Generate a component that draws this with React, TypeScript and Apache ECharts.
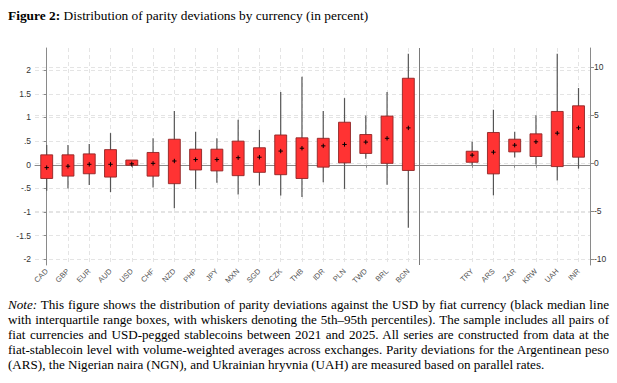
import React, { useEffect, useRef } from "react";
import * as echarts from "echarts";

// ---- Data (percent) ----
const leftCurrencies = ["CAD", "GBP", "EUR", "AUD", "USD", "CHF", "NZD", "PHP", "JPY", "MXN", "SGD", "CZK", "THB", "IDR", "PLN", "TWD", "BRL", "BGN"];
const leftP5 = [-0.55, -0.5, -0.43, -0.58, -0.04, -0.48, -0.92, -0.51, -0.38, -0.63, -0.44, -0.65, -0.68, -0.37, -0.51, 0.13, -0.42, -1.33];
const leftQ1 = [-0.29, -0.24, -0.19, -0.26, -0.01, -0.24, -0.4, -0.11, -0.13, -0.23, -0.16, -0.21, -0.29, -0.05, 0.04, 0.24, 0.03, -0.12];
const leftMedian = [-0.06, -0.03, 0.01, 0.01, 0.02, 0.03, 0.08, 0.11, 0.11, 0.15, 0.16, 0.29, 0.35, 0.4, 0.43, 0.48, 0.56, 0.78];
const leftQ3 = [0.21, 0.21, 0.23, 0.32, 0.1, 0.26, 0.54, 0.33, 0.33, 0.5, 0.36, 0.63, 0.57, 0.56, 0.9, 0.64, 1.03, 1.83];
const leftP95 = [0.42, 0.42, 0.44, 0.67, 0.1, 0.56, 1.14, 0.7, 0.56, 0.95, 0.74, 1.54, 1.86, 1.14, 1.41, 1.04, 1.54, 2.35];

const rightCurrencies = ["TRY", "ARS", "ZAR", "KRW", "UAH", "INR"];
const rightP5 = [-0.21, -3.34, 0.59, -0.14, -1.81, -0.56];
const rightQ1 = [0.1, -1.11, 1.18, 0.7, -0.35, 0.63];
const rightMedian = [0.84, 1.15, 1.88, 2.23, 3.13, 3.69];
const rightQ3 = [1.25, 3.2, 2.5, 3.06, 5.39, 5.98];
const rightP95 = [2.23, 5.57, 3.27, 5.0, 11.4, 7.83];

const leftTicks = [-2, -1.5, -1, -0.5, 0, 0.5, 1, 1.5, 2];
const rightTicks = [-10, -5, 0, 5, 10];

// layout: two empty slots between the groups
const GAP = 2;
const rightStart = leftCurrencies.length + GAP;
const leftPos = leftCurrencies.map((_, i) => i);
const rightPos = rightCurrencies.map((_, i) => rightStart + i);
const allPos = [...leftPos, ...rightPos];
const nameAt = (v: number) => {
  const r = Math.round(v);
  if (r < leftCurrencies.length) return leftCurrencies[r] ?? "";
  return rightCurrencies[r - rightStart] ?? "";
};

const leftData = leftCurrencies.map((_, i) => [leftPos[i], leftP5[i], leftQ1[i], leftMedian[i], leftQ3[i], leftP95[i]]);
const rightData = rightCurrencies.map((_, i) => [rightPos[i], rightP5[i], rightQ1[i], rightMedian[i], rightQ3[i], rightP95[i]]);

const fmtLeft = (v: number) => {
  if (v === 0) return "0";
  const s = String(v);
  return s.replace(/^(-?)0\./, "$1.");
};

const renderBox = (params: any, api: any) => {
  const x = api.value(0);
  const p5 = api.coord([x, api.value(1)]);
  const q1 = api.coord([x, api.value(2)]);
  const med = api.coord([x, api.value(3)]);
  const q3 = api.coord([x, api.value(4)]);
  const p95 = api.coord([x, api.value(5)]);
  const w = api.size([1, 0])[0] * 0.56;
  const cx = p5[0];
  const m = 2.2;
  return {
    type: "group",
    children: [
      {
        type: "line",
        shape: { x1: cx, y1: p95[1], x2: cx, y2: p5[1] },
        style: { stroke: "#555555", lineWidth: 1.2 },
      },
      {
        type: "rect",
        shape: { x: cx - w / 2, y: q3[1], width: w, height: q1[1] - q3[1] },
        style: { fill: "#ff3333", stroke: "#8e2525", lineWidth: 0.9 },
      },
      {
        type: "line",
        shape: { x1: cx - m, y1: med[1], x2: cx + m, y2: med[1] },
        style: { stroke: "#000000", lineWidth: 1 },
      },
      {
        type: "line",
        shape: { x1: cx, y1: med[1] - m, x2: cx, y2: med[1] + m },
        style: { stroke: "#000000", lineWidth: 1 },
      },
    ],
  };
};

const axisColor = "#8a8a8a";
const gridColor = "#e4e4e4";
const labelFont = "'Liberation Sans', Arial, sans-serif";

export default function App() {
  const ref = useRef<HTMLDivElement>(null);
  useEffect(() => {
    if (!ref.current) return;
    const chart = echarts.init(ref.current, undefined, { renderer: "svg" });
    chart.setOption({
      animation: false,
      grid: { left: 35, right: 27, top: 48, height: 217, containLabel: false },
      xAxis: {
        type: "value",
        min: -0.55,
        max: 25.54,
        axisLine: { show: true, lineStyle: { color: axisColor, width: 1 } },
        axisTick: { show: true, customValues: allPos, length: 3, lineStyle: { color: axisColor } },
        axisLabel: {
          customValues: allPos,
          formatter: (v: number) => nameAt(v),
          rotate: 45,
          fontSize: 7.5,
          color: "#555",
          fontFamily: labelFont,
          margin: 5,
          hideOverlap: false,
        },
        splitLine: { show: true, lineStyle: { type: [4, 3], color: gridColor, width: 1 } },
      },
      yAxis: [
        {
          type: "value",
          position: "left",
          min: -2.12,
          max: 2.47,
          axisLine: { show: true, lineStyle: { color: axisColor } },
          axisTick: { show: true, customValues: leftTicks, length: 3, lineStyle: { color: axisColor } },
          axisLabel: {
            customValues: leftTicks,
            formatter: (v: number) => fmtLeft(v),
            fontSize: 8.5,
            color: "#333",
            fontFamily: labelFont,
            margin: 4,
          },
          splitLine: { show: true, lineStyle: { type: [4, 3], color: gridColor, width: 1 } },
        },
        {
          type: "value",
          position: "right",
          min: -10.6,
          max: 12.0,
          axisLine: { show: true, lineStyle: { color: axisColor } },
          axisTick: { show: true, customValues: rightTicks, length: 4, lineStyle: { color: axisColor } },
          axisLabel: {
            customValues: rightTicks,
            formatter: (v: number) => String(v),
            fontSize: 8.5,
            color: "#333",
            fontFamily: labelFont,
            margin: 4,
          },
          splitLine: { show: true, lineStyle: { type: [4, 3], color: gridColor, width: 1 } },
        },
      ],
      series: [
        {
          type: "custom",
          name: "left",
          xAxisIndex: 0,
          yAxisIndex: 0,
          renderItem: renderBox,
          encode: { x: 0, y: [1, 2, 3, 4, 5] },
          data: leftData,
          z: 5,
          markLine: {
            silent: true,
            symbol: "none",
            label: { show: false },
            lineStyle: { color: "#7a7a7a", type: "solid", width: 1 },
            data: [{ xAxis: leftCurrencies.length - 0.5 }],
          },
        },
        {
          type: "custom",
          name: "right",
          xAxisIndex: 0,
          yAxisIndex: 1,
          renderItem: renderBox,
          encode: { x: 0, y: [1, 2, 3, 4, 5] },
          data: rightData,
          z: 5,
        },
      ],
    });
    return () => chart.dispose();
  }, []);

  const serif = "'Liberation Serif', 'Times New Roman', serif";
  const noteLine: React.CSSProperties = {
    textAlign: "justify",
    textAlignLast: "justify",
    whiteSpace: "nowrap",
    height: 15.2,
  };
  return (
    <div style={{ position: "fixed", left: 0, top: 0, width: 617, height: 383, background: "#fff", overflow: "hidden" }}>
      <div ref={ref} style={{ position: "absolute", left: 0, top: 0, width: 617, height: 383 }} />
      <div style={{ position: "absolute", left: 8, top: 8, fontFamily: serif, fontSize: 13.4, lineHeight: "16px", color: "#000", whiteSpace: "nowrap" }}>
        <b>Figure 2:</b> Distribution of parity deviations by currency (in percent)
      </div>
      <div style={{ position: "absolute", left: 8, top: 296.5, width: 601, fontFamily: serif, fontSize: 13.1, lineHeight: "15.2px", color: "#000" }}>
        <div style={noteLine}>
          <i>Note:</i> This figure shows the distribution of parity deviations against the USD by fiat currency (black median line
        </div>
        <div style={noteLine}>
          with interquartile range boxes, with whiskers denoting the 5th–95th percentiles). The sample includes all pairs of
        </div>
        <div style={noteLine}>
          fiat currencies and USD-pegged stablecoins between 2021 and 2025. All series are constructed from data at the
        </div>
        <div style={noteLine}>
          fiat-stablecoin level with volume-weighted averages across exchanges. Parity deviations for the Argentinean peso
        </div>
        <div style={{ whiteSpace: "nowrap", height: 15.2 }}>
          (ARS), the Nigerian naira (NGN), and Ukrainian hryvnia (UAH) are measured based on parallel rates.
        </div>
      </div>
    </div>
  );
}
